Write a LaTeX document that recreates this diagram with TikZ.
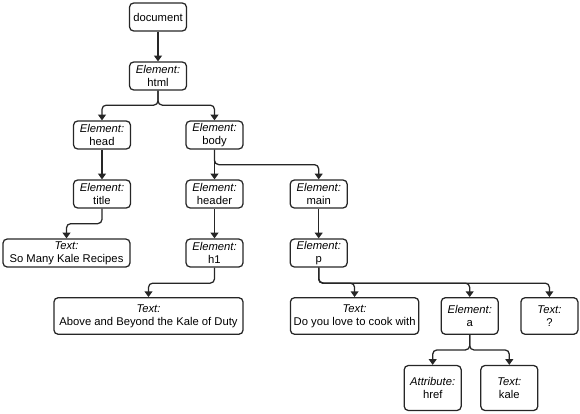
\documentclass[tikz,border=0pt]{standalone}
\usepackage{fontspec}
\setmainfont{Liberation Sans}
\usetikzlibrary{arrows.meta}
\tikzset{
  box/.style={draw=black!85, line width=0.9pt, rounded corners=3pt, align=center,
    minimum width=1.425cm, minimum height=0.7cm, inner sep=1pt,
    font=\fontsize{8}{9}\selectfont},
  link/.style={draw=black!85, line width=0.9pt, rounded corners=3pt,
    -{Triangle[length=4pt,width=5.5pt]}}
}
\begin{document}
\begin{tikzpicture}[x=0.025cm,y=-0.025cm]
\useasboundingbox (0,0) rectangle (580,414);
\node[box] (doc) at (158,17) {document};
\node[box] (html) at (158,76) {\textit{Element:}\\html};
\node[box] (head) at (102,135) {\textit{Element:}\\head};
\node[box] (body) at (214.5,135) {\textit{Element:}\\body};
\node[box] (title) at (102,194) {\textit{Element:}\\title};
\node[box] (header) at (214.5,194) {\textit{Element:}\\header};
\node[box] (main) at (318.7,194) {\textit{Element:}\\main};
\node[box, minimum width=3.175cm] (titletext) at (66.5,253) {\textit{Text:}\\So Many Kale Recipes};
\node[box] (hone) at (214.5,253) {\textit{Element:}\\h1};
\node[box] (p) at (318.7,253) {\textit{Element:}\\p};
\node[box, minimum width=4.725cm, minimum height=0.915cm] (htext) at (148.5,316) {\textit{Text:}\\Above and Beyond the Kale of Duty};
\node[box, minimum width=3.21cm, minimum height=0.915cm] (ptext) at (354.6,316) {\textit{Text:}\\Do you love to cook with};
\node[box, minimum height=0.915cm] (a) at (469.7,316) {\textit{Element:}\\a};
\node[box, minimum height=0.915cm] (qtext) at (549.4,316) {\textit{Text:}\\?};
\node[box, minimum height=1.125cm] (href) at (432.7,388) {\textit{Attribute:}\\href};
\node[box, minimum height=1.125cm] (kale) at (509.3,388) {\textit{Text:}\\kale};
% connectors
\draw[link] (doc) -- (html);
\draw[link] (html.south) -- ++(0,14.5) -| (head.north);
\draw[link] (html.south) -- ++(0,14.5) -| (body.north);
\draw[link] (head) -- (title);
\draw[link] (body) -- (header);
\draw[link] (body.south) -- ++(0,15) -| (main.north);
\draw[link] (title.south) -- ++(0,15) -| (titletext.north);
\draw[link] (header) -- (hone);
\draw[link] (main) -- (p);
\draw[link] (hone.south) -- ++(0,15.5) -| (htext.north);
\draw[link] (p.south) -- ++(0,15.5) -| (ptext.north);
\draw[link] (p.south) -- ++(0,15.5) -| (a.north);
\draw[link] (p.south) -- ++(0,15.5) -| (qtext.north);
\draw[link] (a.south) -- ++(0,15) -| (href.north);
\draw[link] (a.south) -- ++(0,15) -| (kale.north);
\end{tikzpicture}
\end{document}
